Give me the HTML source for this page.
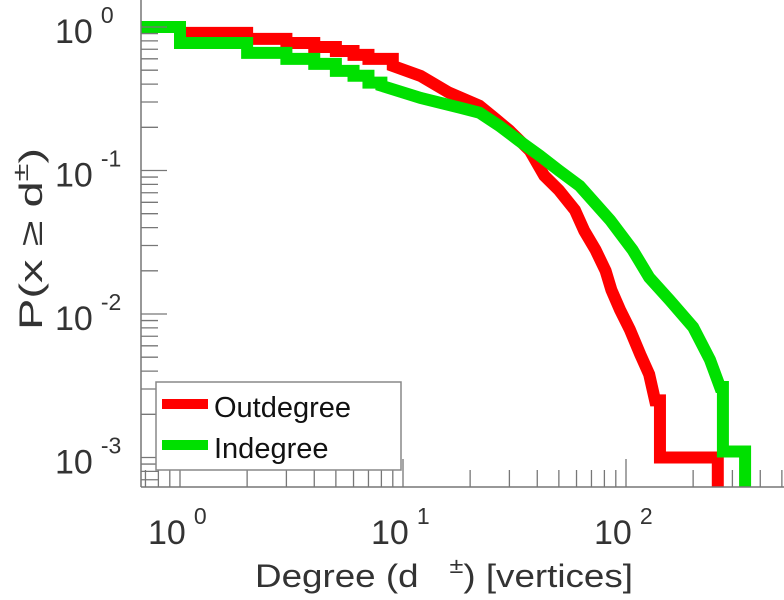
<!DOCTYPE html>
<html><head><meta charset="utf-8"><style>
html,body{margin:0;padding:0;background:#fff;}
svg{display:block;font-family:"Liberation Sans",sans-serif;}
</style></head><body>
<svg id="chart" width="784" height="600" viewBox="0 0 784 600">
<g id="series"></g>
<g id="axes"></g>
<g id="legend">
  <rect x="156" y="382" width="245" height="88" fill="#fff" stroke="#888" stroke-width="1.5"/>
  <line x1="162" y1="404" x2="208" y2="404" stroke="#ff0000" stroke-width="10"/>
  <text x="214" y="417" font-size="29" fill="#111">Outdegree</text>
  <line x1="162" y1="445" x2="208" y2="445" stroke="#00e000" stroke-width="10"/>
  <text x="214" y="458" font-size="29" fill="#111">Indegree</text>
</g>
<text x="255" y="587" font-size="32" fill="#333" textLength="378" lengthAdjust="spacingAndGlyphs">Degree (d <tspan dx="18" dy="-14" font-size="22">±</tspan><tspan dy="14">) [vertices]</tspan></text>
<text transform="translate(42,330) rotate(-90)" font-size="32" fill="#333" textLength="182" lengthAdjust="spacingAndGlyphs">P(x ≥ d<tspan dy="-14" font-size="22">±</tspan><tspan dy="14">)</tspan></text>
</svg>
<script>
const outDeg = [0.67,1,2,3,4,5,6,7,9,12,16,22,26,30,37,43,50,59,65,73,81,86,94,104,116,127,135,142,258];
const outP   = [1,0.91,0.826,0.774,0.726,0.68,0.64,0.6,0.536,0.456,0.35,0.283,0.229,0.19,0.138,0.092,0.073,0.053,0.038,0.028,0.020,0.0147,0.0107,0.0078,0.0052,0.0038,0.0025,0.001,0.0004];
const inDeg  = [0.67,1,2,3,4,5,6,7,8,12,18,22,27,33,41,50,62,85,107,127,157,200,238,264,272,342];
const inP    = [1,0.774,0.66,0.6,0.553,0.495,0.457,0.41,0.39,0.32,0.274,0.253,0.205,0.162,0.127,0.1,0.078,0.045,0.028,0.018,0.0125,0.0081,0.0048,0.0031,0.0011,0.0004];
const xTickExps = [0,1,2];
const yTickExps = [0,-1,-2,-3];

const X0=180, XD=223, Y0=27, YD=143.5, AX=141, AY=487;
const sx = v => X0 + Math.log10(v)*XD;
const sy = v => Y0 - Math.log10(v)*YD;
const NS='http://www.w3.org/2000/svg';
function mk(tag, attrs){const e=document.createElementNS(NS,tag);for(const k in attrs)e.setAttribute(k,attrs[k]);return e;}

const svg=document.getElementById('chart');
const defs=mk('defs',{});
const cp=mk('clipPath',{id:'plotclip'});
cp.appendChild(mk('rect',{x:AX,y:0,width:784-AX,height:AY}));
defs.appendChild(cp);svg.insertBefore(defs,svg.firstChild);

const sg=document.getElementById('series');
sg.setAttribute('clip-path','url(#plotclip)');
function stepPath(xs,ys){
  const n=xs.length;
  let d='M'+sx(xs[0])+','+sy(ys[0]);
  for(let i=1;i<n;i++){
    if(xs[i]<=9 || i>=n-2){d+=' H'+sx(xs[i])+' V'+sy(ys[i]);}
    else{d+=' L'+sx(xs[i])+','+sy(ys[i]);}
  }
  return d;
}
const pOut=mk('path',{d:stepPath(outDeg,outP),fill:'none',stroke:'#ff0000','stroke-width':12,'stroke-linejoin':'miter'});


sg.appendChild(pOut);
const pIn=mk('path',{d:stepPath(inDeg,inP),fill:'none',stroke:'#00e000','stroke-width':12,'stroke-linejoin':'miter'});


sg.appendChild(pIn);

const ag=document.getElementById('axes');
const col='#777';
ag.appendChild(mk('line',{x1:AX,y1:0,x2:AX,y2:AY,stroke:col,'stroke-width':1.5}));
ag.appendChild(mk('line',{x1:AX,y1:AY,x2:784,y2:AY,stroke:col,'stroke-width':1.5}));
for(let e=1;e>=-4;e--){
  for(let m=1;m<10;m++){
    const v=m*Math.pow(10,e);const y=sy(v);
    if(y<0||y>AY)continue;
    const len=m===1?26:17;
    ag.appendChild(mk('line',{x1:AX,y1:y,x2:AX+len,y2:y,stroke:col,'stroke-width':1.3}));
  }
}
for(let e=-1;e<=3;e++){
  for(let m=1;m<10;m++){
    const v=m*Math.pow(10,e);const x=sx(v);
    if(x<AX||x>784)continue;
    const len=m===1?28:17;
    ag.appendChild(mk('line',{x1:x,y1:AY,x2:x,y2:AY-len,stroke:col,'stroke-width':1.3}));
  }
}
yTickExps.forEach(e=>{
  const t=mk('text',{x:55,y:sy(Math.pow(10,e))+16,'font-size':34,fill:'#333'});
  
  
  t.innerHTML='10<tspan dx="8" dy="-20" font-size="23">'+e+'</tspan>';
  ag.appendChild(t);
});
xTickExps.forEach(e=>{
  const t=mk('text',{x:sx(Math.pow(10,e))-32,y:544,'font-size':34,fill:'#333'});
  
  
  t.innerHTML='10<tspan dx="8" dy="-20" font-size="23">'+e+'</tspan>';
  ag.appendChild(t);
});
svg.appendChild(document.getElementById('legend'));
</script>
</body></html>
